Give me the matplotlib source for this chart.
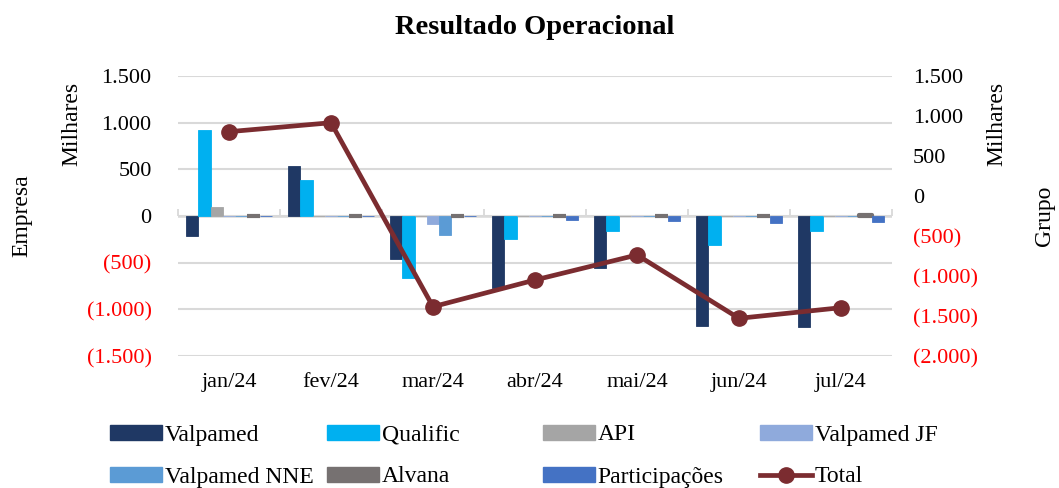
import matplotlib
matplotlib.use("Agg")
import matplotlib.pyplot as plt
import numpy as np
from matplotlib.patches import Patch
from matplotlib.lines import Line2D
from matplotlib.ticker import FuncFormatter, NullFormatter

plt.rcParams['font.family'] = ['Liberation Serif', 'DejaVu Serif']

months = ["jan/24", "fev/24", "mar/24", "abr/24", "mai/24", "jun/24", "jul/24"]
valpamed = [-215, 537, -461, -772, -558, -1180, -1191]
qualific = [920, 390, -661, -250, -161, -307, -161]
api = [93, 0, 0, 0, 0, 0, 0]
valpamed_jf = [-3, -3, -89, -3, -3, -3, -3]
valpamed_nne = [0, 0, -200, 0, 0, 0, 0]
alvana = [-5, -5, 5, 0, 0, 0, 8]
participacoes = [-3, 0, -3, -40, -55, -70, -65]
total = [804, 916, -1384, -1050, -737, -1529, -1396]

series_names = ["Valpamed", "Qualific", "API", "Valpamed JF",
                "Valpamed NNE", "Alvana", "Participações"]
series_vals = [valpamed, qualific, api, valpamed_jf, valpamed_nne, alvana, participacoes]
colors = ["#1F3864", "#00B0F0", "#A5A5A5", "#8FAADC", "#5B9BD5", "#767171", "#4472C4"]
line_color = "#7B2C30"
red = "#FF0000"
FS = 16

fig = plt.figure(figsize=(10.59, 4.88), dpi=100)
ax = fig.add_axes([178/1059, 1-356/488, (892-178)/1059, (356-76)/488])
ax2 = ax.twinx()

x = np.arange(len(months))
n = len(series_vals)
group = 0.84
w = group / n
for i, (vals, c) in enumerate(zip(series_vals, colors)):
    off = (i - (n - 1) / 2) * w
    if series_names[i] == "Alvana":
        ax.bar(x + off, vals, w, color=c, edgecolor=c, linewidth=3,
               joinstyle='round', zorder=3)
    else:
        ax.bar(x + off, vals, w, color=c, edgecolor=c, linewidth=0.6, zorder=3)

ax.set_xlim(-0.5, len(months) - 0.5)
ax.set_ylim(-1500, 1500)
ax.set_yticks(np.arange(-1500, 1501, 500))
ax.grid(axis='y', color='#D9D9D9', linewidth=1.5, zorder=0)
ax.set_axisbelow(True)
ax.axhline(0, color='#D9D9D9', linewidth=1.8, zorder=2)
for s in ax.spines.values():
    s.set_visible(False)
for s in ax2.spines.values():
    s.set_visible(False)

def fmt(v, pos=None):
    v = int(round(v))
    s = f"{abs(v):,}".replace(",", ".")
    return f"({s})" if v < 0 else s

ax.yaxis.set_major_formatter(FuncFormatter(fmt))
ax.tick_params(axis='y', length=0, pad=19, labelsize=FS)
ax.set_xticks(x)
ax.set_xticklabels(months)
ax.tick_params(axis='x', length=0, pad=12, labelsize=FS)
for lab, v in zip(ax.get_yticklabels(), np.arange(-1500, 1501, 500)):
    lab.set_color(red if v < 0 else 'black')

# zero-line category ticks
sec = ax.secondary_xaxis(0.5)
sec.set_xticks(np.arange(-0.5, len(months), 1.0))
sec.xaxis.set_major_formatter(NullFormatter())
sec.tick_params(axis='x', direction='out', length=5, width=1.3, color='#D9D9D9')
for s in sec.spines.values():
    s.set_visible(False)

ax2.plot(x, total, color=line_color, linewidth=3.4, marker='o', markersize=11,
         zorder=5, solid_capstyle='round')
ax2.set_ylim(-2000, 1500)
ax2.set_yticks(np.arange(-2000, 1501, 500))
ax2.yaxis.set_major_formatter(FuncFormatter(fmt))
ax2.tick_params(axis='y', length=0, pad=15, labelsize=FS)
for lab, v in zip(ax2.get_yticklabels(), np.arange(-2000, 1501, 500)):
    lab.set_color(red if v < 0 else 'black')

fig.text(535/1059, 1-28/488, "Resultado Operacional", ha='center', va='center',
         fontsize=20.5, fontweight='bold')
fig.text(72/1059, 1-124/488, "Milhares", rotation=90, ha='center', va='center', fontsize=17)
fig.text(22/1059, 1-216/488, "Empresa", rotation=90, ha='center', va='center', fontsize=17)
fig.text(997/1059, 1-124/488, "Milhares", rotation=90, ha='center', va='center', fontsize=17)
fig.text(1045/1059, 1-216/488, "Grupo", rotation=90, ha='center', va='center', fontsize=17)

# legend entries positioned in a 4x2 grid
labels = series_names + ["Total"]
handles = [Patch(facecolor=c, edgecolor=c) for c in colors]
handles.append(Line2D([0], [0], color=line_color, linewidth=3.4, marker='o', markersize=11))
col_x = [110, 327, 543, 760]
row_y = [435, 477]
LFS = 17
for k, (h, l) in enumerate(zip(handles, labels)):
    r, cidx = divmod(k, 4)
    fig.legend(handles=[h], labels=[l], loc='center left',
               bbox_to_anchor=(col_x[cidx]/1059, 1-row_y[r]/488),
               frameon=False, fontsize=LFS, handlelength=2.2, handleheight=0.6,
               handletextpad=0.12, borderpad=0, borderaxespad=0)

fig.savefig("out.png", dpi=100)
